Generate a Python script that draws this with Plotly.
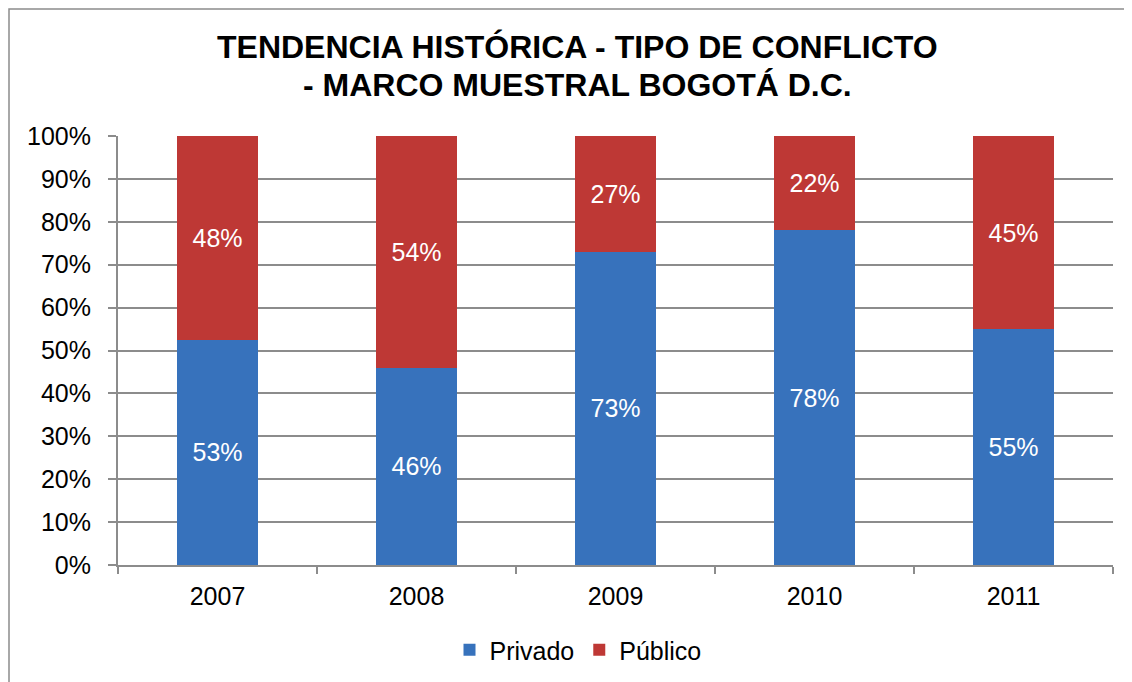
import plotly.graph_objects as go

years = ["2007", "2008", "2009", "2010", "2011"]
privado = [53, 46, 73, 78, 55]
publico = [48, 54, 27, 22, 45]
y_ticks = [0, 10, 20, 30, 40, 50, 60, 70, 80, 90, 100]
y_tick_labels = [f"{v}%" for v in y_ticks]
title_lines = ["TENDENCIA HISTÓRICA - TIPO DE CONFLICTO", "- MARCO MUESTRAL BOGOTÁ D.C."]

OFF = 8  # page body margin
W, H = 1132 - OFF, 682 - OFF
L, R, T, B = 118 - OFF, 1132 - 1113, 136 - OFF, 682 - 565
FONT = "Liberation Sans, Arial, sans-serif"

fig = go.Figure()
fig.add_trace(go.Bar(
    x=years, y=privado, name="Privado",
    marker=dict(color="#3772BC", line=dict(width=0)),
    text=[f"{v}%" for v in privado], textposition="inside",
    insidetextanchor="middle",
    textfont=dict(color="white", size=25, family=FONT),
))
fig.add_trace(go.Bar(
    x=years, y=publico, name="Público",
    marker=dict(color="#BE3835", line=dict(width=0)),
    text=[f"{v}%" for v in publico], textposition="inside",
    insidetextanchor="middle",
    textfont=dict(color="white", size=25, family=FONT),
))

pw = W - L - R
ph = H - T - B
fig.add_shape(type="rect", xref="paper", yref="paper",
              x0=(1 - L) / pw, x1=(W + 20 - L) / pw,
              y0=-(B + 20) / ph, y1=(H - B - 1) / ph,
              line=dict(color="#8C8C8C", width=1.5), fillcolor="rgba(0,0,0,0)",
              layer="below")

for i, (line, ypx) in enumerate(zip(title_lines, [47, 85])):
    fig.add_annotation(
        text=f"<b>{line}</b>", showarrow=False,
        xref="paper", yref="paper",
        x=(577 - OFF - L) / pw, xanchor="center",
        y=(H - B - (ypx - OFF)) / ph, yanchor="middle",
        font=dict(size=32, family=FONT, color="black"),
    )

fig.update_layout(
    width=W, height=H,
    margin=dict(l=L, r=R, t=T, b=B, autoexpand=False),
    barmode="stack", barnorm="percent", bargap=0.59,
    paper_bgcolor="white", plot_bgcolor="white",
    font=dict(family=FONT, size=25, color="black"),
    legend=dict(orientation="h", x=(578 - OFF) / W, xref="container", xanchor="center",
                y=1 - (650 - OFF) / H, yref="container", yanchor="middle",
                font=dict(size=25, family=FONT), itemwidth=30,
                traceorder="normal", itemclick=False),
    showlegend=True,
)
fig.update_xaxes(
    showline=True, linecolor="#8C8C8C", linewidth=2,
    ticks="outside", tickson="boundaries", ticklen=7, tickcolor="#8C8C8C", tickwidth=2,
    showgrid=False, tickfont=dict(size=25, family=FONT), ticklabelstandoff=8,
)
fig.update_yaxes(
    range=[0, 100], tickvals=y_ticks, ticktext=y_tick_labels,
    showline=True, linecolor="#8C8C8C", linewidth=2,
    ticks="outside", ticklen=8, tickcolor="#8C8C8C", tickwidth=2,
    showgrid=True, gridcolor="#8C8C8C", gridwidth=2, zeroline=False,
    tickfont=dict(size=25, family=FONT), ticklabelstandoff=12,
)

fig.write_html("out.html")
